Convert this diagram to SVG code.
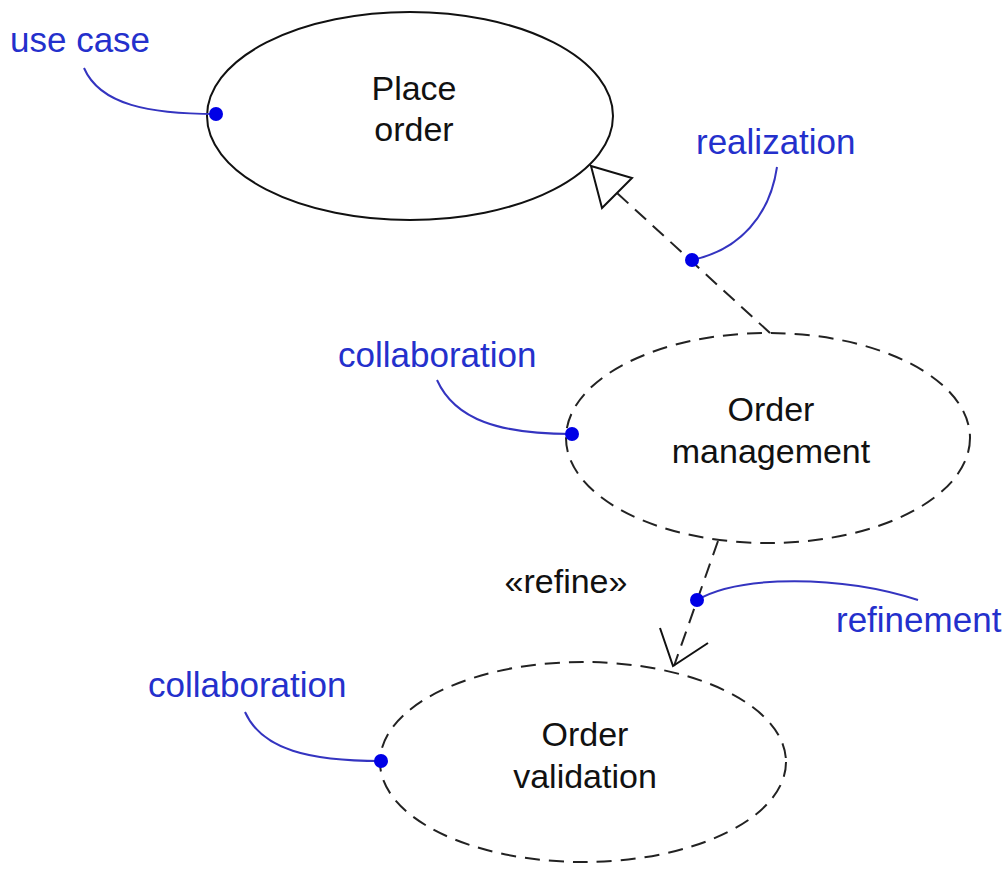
<svg xmlns="http://www.w3.org/2000/svg" width="1008" height="869" viewBox="0 0 1008 869">
<style>
.uc{fill:#fff;stroke:#111;stroke-width:2}
.co{fill:#fff;stroke:#222;stroke-width:2;stroke-dasharray:15,9}
.t{font-family:"Liberation Sans",Arial,sans-serif;font-size:34px;fill:#111;text-anchor:middle}
.n{font-family:"Liberation Sans",Arial,sans-serif;font-size:35px;fill:#2430cc}
.ld{fill:none;stroke:#3434c0;stroke-width:2}
.dot{fill:#0000e6}
.dep{fill:none;stroke:#222;stroke-width:2;stroke-dasharray:15,9}
.ah{fill:#fff;stroke:#111;stroke-width:2;stroke-linejoin:miter}
</style>
<rect width="1008" height="869" fill="#fff"/>
<g id="place-order">
<ellipse class="uc" cx="410" cy="116" rx="203" ry="104"/>
<text class="t" x="414" y="100">Place</text>
<text class="t" x="414" y="141">order</text>
</g>
<g id="order-management">
<ellipse class="co" cx="768" cy="438" rx="202" ry="105"/>
<text class="t" x="771" y="421">Order</text>
<text class="t" x="771" y="463">management</text>
</g>
<g id="order-validation">
<ellipse class="co" cx="583" cy="762" rx="203" ry="100"/>
<text class="t" x="585" y="746">Order</text>
<text class="t" x="585" y="788">validation</text>
</g>
<g id="connectors">
<line class="dep" x1="770" y1="333" x2="617" y2="193"/>
<polygon class="ah" points="591,166 632,178 602,208"/>
<line class="dep" x1="718" y1="541" x2="674" y2="666"/>
<polyline class="ah" points="660,628 673,666 708,643" style="fill:none"/>
<text class="t" x="566" y="593">«refine»</text>
</g>
<g id="notes">
<text class="n" x="10" y="52">use case</text>
<path class="ld" d="M84,68 C100,105 150,114 216,114"/>
<circle class="dot" cx="216" cy="114" r="7"/>
<text class="n" x="696" y="154">realization</text>
<path class="ld" d="M777,167 C770,215 740,250 692,260"/>
<circle class="dot" cx="692" cy="260" r="7"/>
<text class="n" x="338" y="367">collaboration</text>
<path class="ld" d="M437,380 C455,420 500,434 572,434"/>
<circle class="dot" cx="572" cy="434" r="7"/>
<text class="n" x="836" y="632">refinement</text>
<path class="ld" d="M697,600 C740,575 840,575 918,600"/>
<circle class="dot" cx="697" cy="600" r="7"/>
<text class="n" x="148" y="697">collaboration</text>
<path class="ld" d="M245,712 C262,750 310,761 381,761"/>
<circle class="dot" cx="381" cy="761" r="7"/>
</g>
</svg>
